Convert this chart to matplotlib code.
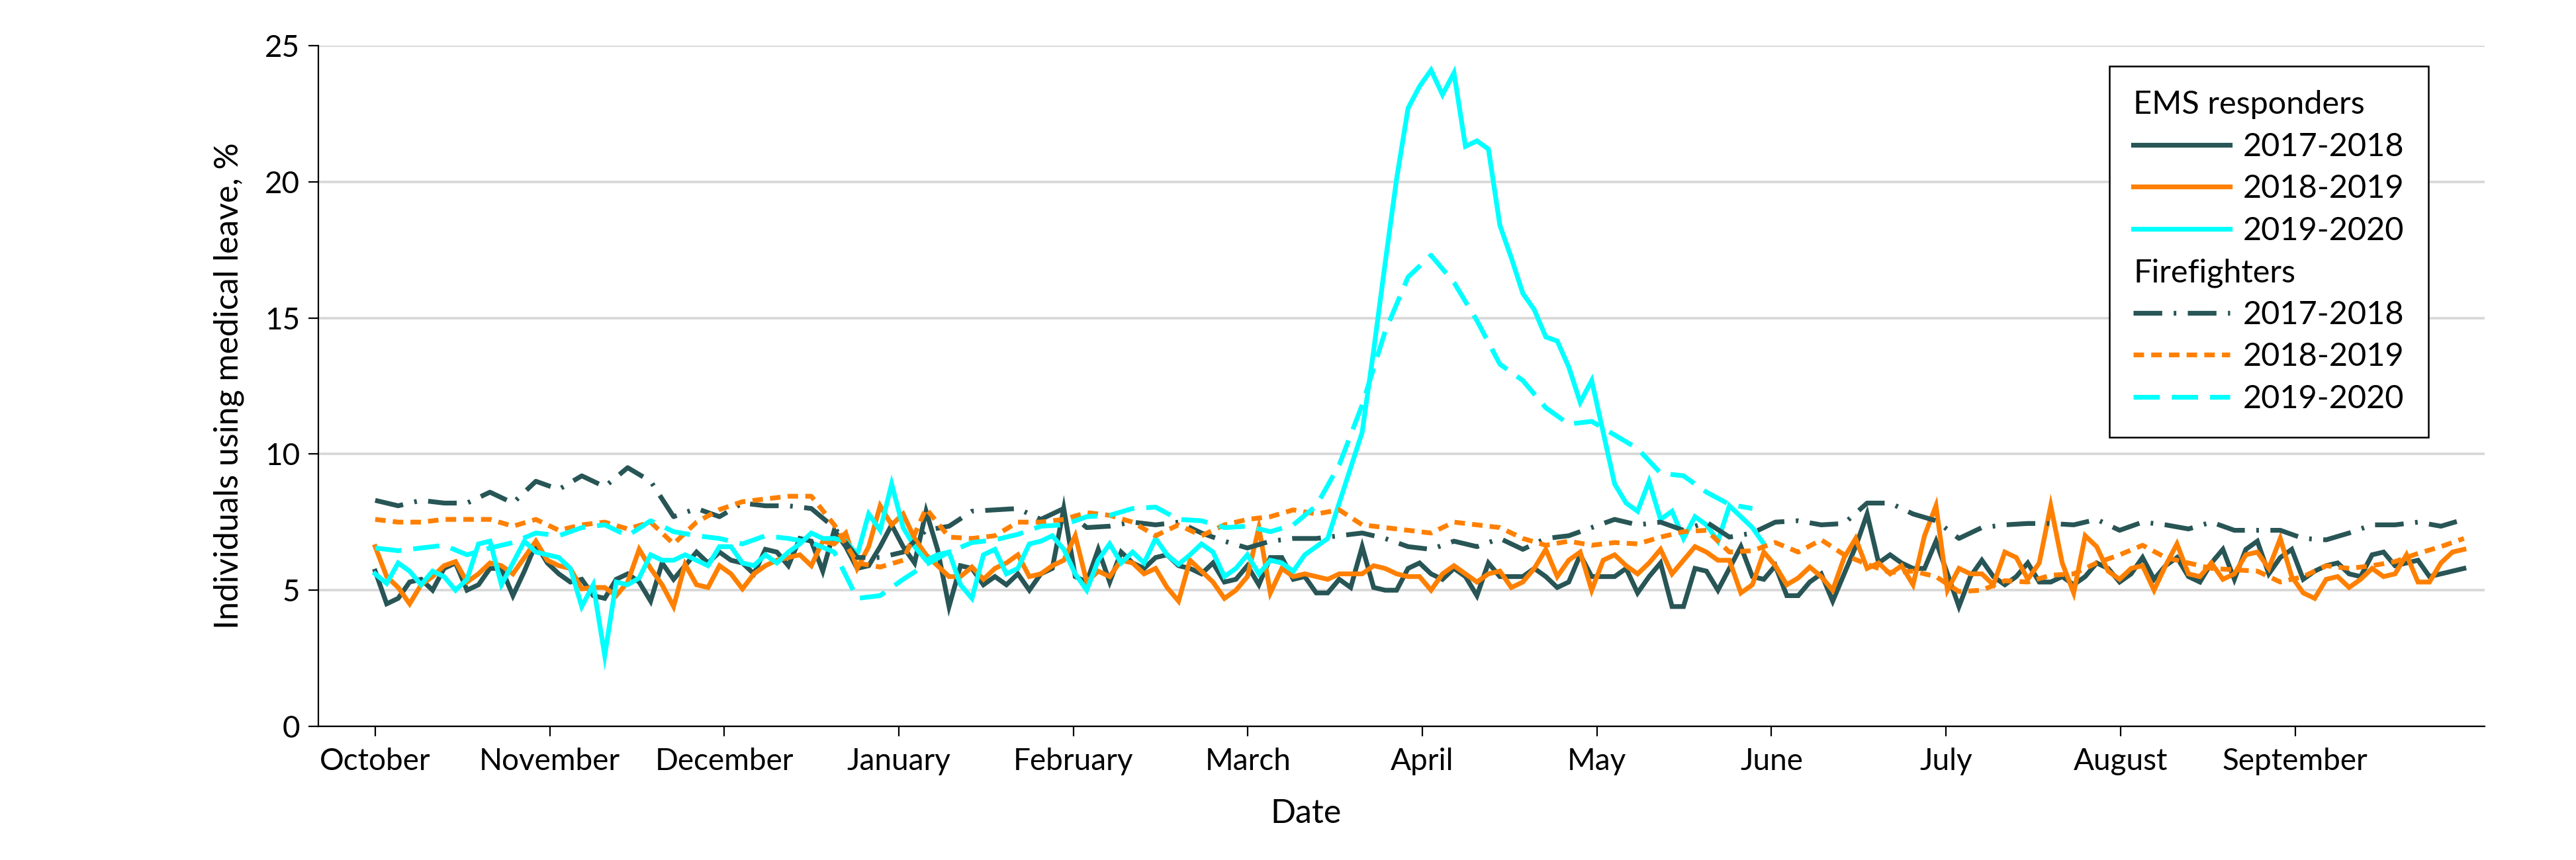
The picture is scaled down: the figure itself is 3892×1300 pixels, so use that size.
import numpy as np
import matplotlib
matplotlib.use("Agg")
import matplotlib.pyplot as plt
from matplotlib.lines import Line2D

plt.rcParams['font.family'] = ['Lato', 'DejaVu Sans']

months = ["October", "November", "December", "January", "February", "March",
          "April", "May", "June", "July", "August", "September"]
seasons = ["2017-2018", "2018-2019", "2019-2020"]

# EMS responders, % on medical leave, one value every 2 days from October 1
ems_2017_2018 = [
    5.7, 4.5, 4.7, 5.3, 5.4, 5.0, 5.8, 6.0, 5.0, 5.2, 5.8, 5.8, 4.8, 5.7, 6.7,
    6.0, 5.6, 5.3, 5.4, 4.8, 4.7, 5.4, 5.6, 5.3, 4.6, 6.0, 5.4, 5.9, 6.4,
    6.0, 6.4, 6.1, 6.0, 5.6, 6.5, 6.4, 5.9, 6.9, 6.8, 5.7, 7.2, 6.6, 5.8, 5.9,
    6.6, 7.4, 6.6, 6.0, 7.9, 6.5, 4.4, 5.9, 5.8, 5.2, 5.5, 5.2, 5.6, 5.0, 5.6,
    5.8, 8.0,
    5.5, 5.3, 6.5, 5.3, 6.4, 6.0, 5.8, 6.2, 6.3, 5.9, 5.8, 5.6, 6.0, 5.3, 5.4,
    5.9, 5.2, 6.2, 6.2, 5.4, 5.5, 4.9, 4.9, 5.4, 5.1, 6.6, 5.1, 5.0, 5.0, 5.8,
    6.0,
    5.6, 5.4, 5.8, 5.5, 4.8, 6.0, 5.5, 5.5, 5.5, 5.8, 5.5, 5.1, 5.3, 6.3, 5.5,
    5.5, 5.5, 5.8, 4.9, 5.5, 6.0, 4.4, 4.4, 5.8, 5.7, 5.0, 5.8, 6.6, 5.5, 5.4,
    5.9, 4.8,
    4.8, 5.3, 5.6, 4.6, 5.6, 6.6, 7.8, 6.0, 6.3, 6.0, 5.8, 5.8, 6.8, 5.6, 4.4,
    5.5, 6.1, 5.5, 5.2, 5.5, 6.0, 5.3, 5.3, 5.5, 5.2, 5.5, 6.0, 5.8, 5.3, 5.6,
    6.2, 5.4,
    5.9, 6.2, 5.5, 5.3, 6.0, 6.5, 5.4, 6.5, 6.8, 5.6, 6.2, 6.5, 5.4, 5.7, 5.9,
    6.0, 5.6, 5.5, 6.3, 6.4, 5.9, 6.0, 6.1, 5.5, 5.6, 5.7, 5.8,
]
ems_2018_2019 = [
    6.6, 5.5, 5.1, 4.5, 5.2, 5.5, 5.9, 6.05, 5.3, 5.6, 6.0, 5.9, 5.6, 6.2, 6.8,
    6.1, 5.9, 5.8, 5.05, 5.1, 5.1, 4.8, 5.3, 6.5, 5.8, 5.2, 4.4, 5.95, 5.2,
    5.1, 5.9, 5.6, 5.05, 5.6, 5.9, 6.1, 6.2, 6.3, 5.9, 6.8, 6.7, 7.1, 5.8, 6.6,
    8.1, 7.4, 7.8, 6.9, 6.3, 5.9, 5.5, 5.5, 5.85, 5.4, 5.8, 6.0, 6.3, 5.5, 5.6,
    5.9, 6.1,
    7.0, 5.3, 5.7, 5.5, 6.1, 6.0, 5.6, 5.8, 5.1, 4.6, 6.1, 5.7, 5.3, 4.7, 5.0,
    5.5, 7.3, 4.9, 5.8, 5.5, 5.6, 5.5, 5.4, 5.6, 5.6, 5.6, 5.9, 5.8, 5.6, 5.5,
    5.5,
    5.0, 5.6, 5.9, 5.6, 5.3, 5.6, 5.7, 5.1, 5.3, 5.8, 6.5, 5.5, 6.1, 6.4, 5.0,
    6.1, 6.3, 5.9, 5.6, 6.0, 6.5, 5.6, 6.1, 6.6, 6.4, 6.1, 6.1, 4.9, 5.2, 6.4,
    5.9, 5.2,
    5.45, 5.85, 5.5, 5.0, 6.2, 6.9, 5.8, 6.0, 5.6, 5.9, 5.2, 7.0, 8.1, 5.0, 5.8,
    5.6, 5.6, 5.2, 6.4, 6.2, 5.4, 6.0, 8.1, 6.0, 4.9, 7.0, 6.6, 5.7, 5.4, 5.8,
    5.9, 5.0,
    5.9, 6.7, 5.6, 5.5, 6.0, 5.4, 5.6, 6.3, 6.4, 5.8, 6.9, 5.5, 4.9, 4.7, 5.4,
    5.5, 5.1, 5.4, 5.8, 5.5, 5.6, 6.3, 5.3, 5.3, 6.0, 6.4, 6.5,
]
ems_2019_2020 = [
    5.6, 5.25, 6.0, 5.7, 5.2, 5.7, 5.5, 5.0, 5.4, 6.7, 6.8, 5.2, 6.0, 6.8, 6.4,
    6.3, 6.2, 5.8, 4.4, 5.2, 2.6, 5.3, 5.2, 5.45, 6.3, 6.1, 6.1, 6.3, 6.1,
    5.9, 6.6, 6.6, 6.0, 5.9, 6.3, 6.0, 6.4, 6.7, 7.1, 6.9, 6.9, 6.8, 6.3, 7.8,
    7.2, 8.9, 7.3, 6.6, 6.1, 6.3, 6.4, 5.2, 4.7, 6.3, 6.5, 5.6, 5.8, 6.7, 6.8,
    7.0, 6.5,
    5.6, 5.0, 6.1, 6.7, 6.0, 6.4, 6.0, 6.9, 6.3, 5.95, 6.3, 6.7, 6.4, 5.5, 5.8,
    6.3, 5.6, 6.1, 6.0, 5.7, 6.3, 6.6, 6.9, 8.2, 9.5,
    10.8, 13.8, 17.0, 20.1, 22.7, 23.5, 24.1, 23.2, 24.0, 21.3, 21.5, 21.2,
    18.4, 17.2, 15.9, 15.3, 14.3, 14.15, 13.2, 11.9, 12.7, 10.8, 8.9, 8.2, 7.9,
    9.0, 7.6, 7.9, 6.9, 7.7, 7.4, 6.8, 8.1, 7.7, 7.3, 6.7,
]

# Firefighters, % on medical leave, one value every 4 days from October 1
ff_2017_2018 = [
    8.3, 8.1, 8.3, 8.2, 8.2, 8.6, 8.2, 9.0, 8.7, 9.2, 8.8, 9.5, 9.0, 7.7, 8.0,
    7.7, 8.2, 8.1, 8.1, 8.0, 7.3, 6.2, 6.2, 6.4, 7.2, 7.35, 7.9, 7.95, 8.0, 7.6,
    8.0,
    7.3, 7.35, 7.5, 7.4, 7.5, 7.1, 6.8, 6.55, 6.8, 6.9, 6.9, 7.0, 7.1, 6.9, 6.6,
    6.5, 6.8, 6.6, 6.9, 6.5, 6.9, 7.0, 7.3, 7.6, 7.4, 7.5, 7.2, 7.5, 6.95, 7.1,
    7.5,
    7.55, 7.4, 7.45, 8.2, 8.2, 7.8, 7.55, 6.9, 7.3, 7.4, 7.45, 7.45, 7.4, 7.6,
    7.2, 7.5,
    7.4, 7.25, 7.5, 7.2, 7.2, 7.2, 6.9, 6.85, 7.1, 7.4, 7.4, 7.5, 7.35, 7.6,
]
ff_2018_2019 = [
    7.6, 7.5, 7.5, 7.6, 7.6, 7.6, 7.35, 7.6, 7.2, 7.4, 7.5, 7.25, 7.5, 6.7, 7.5,
    7.96, 8.25, 8.35, 8.45, 8.45, 7.4, 6.0, 5.85, 6.1, 8.0, 6.95, 6.9, 7.0, 7.5,
    7.5, 7.6,
    7.85, 7.75, 7.5, 7.0, 7.4, 7.0, 7.4, 7.6, 7.7, 7.95, 7.8, 7.95, 7.4, 7.3,
    7.2,
    7.1, 7.5, 7.4, 7.3, 6.9, 6.65, 6.8, 6.65, 6.75, 6.7, 6.95, 7.15, 7.2, 6.4,
    6.45, 6.75,
    6.4, 6.85, 6.3, 5.95, 5.65, 5.7, 5.5, 4.95, 5.0, 5.35, 5.3, 5.55, 5.6, 6.0,
    6.3, 6.65,
    6.2, 6.0, 5.8, 5.75, 5.7, 5.3, 5.5, 5.9, 5.8, 5.9, 6.05, 6.35, 6.6, 6.9,
]
ff_2019_2020 = [
    6.55, 6.45, 6.55, 6.65, 6.3, 6.55, 6.75, 7.1, 7.0, 7.3, 7.4, 7.0, 7.55,
    7.15, 7.0,
    6.9, 6.7, 7.0, 6.9, 6.75, 6.4, 4.7, 4.8, 5.4, 5.94, 6.4, 6.75, 6.85, 7.05,
    7.35, 7.4,
    7.7, 7.75, 8.0, 8.05, 7.6, 7.55, 7.3, 7.35, 7.15, 7.4, 8.1, 9.6, 11.8,
    14.5, 16.5, 17.3, 16.3, 14.9, 13.3, 12.7, 11.7, 11.1, 11.2, 10.7, 10.2,
    9.3, 9.2, 8.6, 8.15, 8.0,
]

dark = "#285555"
orange = "#FF8000"
cyan = "#00FFFF"
colors = [dark, orange, cyan]

ems = [ems_2017_2018, ems_2018_2019, ems_2019_2020]
ff = [ff_2017_2018, ff_2018_2019, ff_2019_2020]
ff_dashes = [(6.0, 2.4, 0.55, 2.4), (2.2, 1.5), (5.5, 2.5)]
lw = 2.6

fig = plt.figure(figsize=(19.46, 6.5), dpi=200)
ax = fig.add_axes([0.1236, 0.1554, 0.8409, 0.7916])

emsLines = []
for i in range(3):
    x = np.arange(len(ems[i])) * 2
    l, = ax.plot(x, ems[i], color=colors[i], linewidth=lw, solid_joinstyle='miter')
    emsLines.append(l)

ffLines = []
for i in range(3):
    x = np.arange(len(ff[i])) * 4
    l, = ax.plot(x, ff[i], color=colors[i], linewidth=lw, dashes=ff_dashes[i])
    ffLines.append(l)

ax.set_xlim(-9.9, 367.6)
ax.set_ylim(0, 25)
ax.set_xticks(np.arange(12) * 365 / 12)
ax.set_xticklabels(months)
ax.set_yticks(np.arange(0, 26, 5))

ax.yaxis.grid(True, color='#d9d9d9', linewidth=1.4)
ax.set_axisbelow(True)
for side in ['top', 'right']:
    ax.spines[side].set_visible(False)
for side in ['left', 'bottom']:
    ax.spines[side].set_linewidth(0.8)
ax.tick_params(axis='both', length=5.5, width=0.8, labelsize=16.5, color='black')
ax.tick_params(axis='y', pad=4.5)
ax.tick_params(axis='x', pad=6)

ax.set_xlabel("Date", fontsize=18)
ax.xaxis.set_label_coords(0.456, -0.106)
ax.set_ylabel("Individuals using medical leave, %", fontsize=18, labelpad=11)

blank = Line2D([], [], linestyle='none')
handles = [blank] + emsLines + [blank] + ffLines
labels = ["EMS responders"] + seasons + ["Firefighters"] + seasons
leg = ax.legend(handles, labels, loc='upper right', bbox_to_anchor=(0.974, 0.970),
                frameon=True, fancybox=False, edgecolor='black', framealpha=1,
                fontsize=17.5, handlelength=3.0, handletextpad=0.4,
                labelspacing=0.40, borderpad=0.75, borderaxespad=0)
leg.get_frame().set_linewidth(0.9)

# pull the two group headers to the left edge, no handle space
for vpack in leg._legend_handle_box.get_children():
    for hpack in vpack.get_children():
        drawArea, textArea = hpack.get_children()
        if textArea.get_text() in ("EMS responders", "Firefighters"):
            drawArea.set_width(0)
            hpack.sep = 0

fig.savefig("out.png", dpi=200, facecolor='white')
